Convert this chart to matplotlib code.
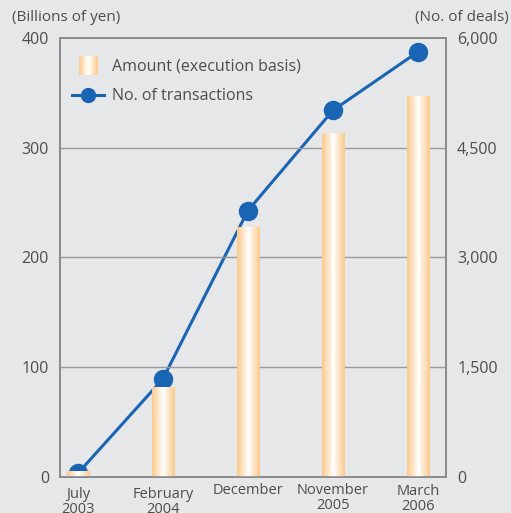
import matplotlib.pyplot as plt
import numpy as np
from matplotlib.colors import LinearSegmentedColormap
from matplotlib.legend_handler import HandlerBase
from matplotlib.lines import Line2D
from matplotlib.patches import Rectangle
from matplotlib.transforms import blended_transform_factory, offset_copy

# data
periods = ['July\n2003', 'February\n2004', 'December', 'November\n2005', 'March\n2006']
amount = [5, 82, 228, 313, 347]          # billions of yen
deals = [50, 1340, 3640, 5010, 5810]     # no. of deals
left_ticks = [0, 100, 200, 300, 400]
right_ticks = [0, 1500, 3000, 4500, 6000]
right_labels = ['0', '1,500', '3,000', '4,500', '6,000']

bg = '#e6e7e9'
txt = '#4d4d4d'
blue = '#1a64b4'
bar_cmap = LinearSegmentedColormap.from_list('bar', ['#fcc88a', '#ffffff', '#fcc88a'])

plt.rcParams['font.family'] = ['Open Sans', 'DejaVu Sans']
plt.rcParams['font.size'] = 11

fig = plt.figure(figsize=(5.11, 5.13), dpi=100, facecolor=bg)
ax = fig.add_axes([0.1174, 0.0702, 0.7554, 0.8558], facecolor=bg)
ax2 = ax.twinx()

x = np.arange(len(periods))
width = 0.26
ax.set_xlim(-0.21, 4.33)
ax.set_ylim(0, 400)
ax2.set_ylim(0, 6000)

# grid lines
for v in left_ticks[1:-1]:
    ax.axhline(v, color='#9a9a9a', lw=1, zorder=0)

# bars with a horizontal gradient
grad = np.linspace(0, 1, 256).reshape(1, -1)
bars = ax.bar(x, amount, width, color='none', edgecolor='none', zorder=2)
for b in bars:
    bx, by = b.get_x(), b.get_y()
    im = ax.imshow(grad, cmap=bar_cmap, aspect='auto', zorder=2,
                   extent=[bx, bx + b.get_width(), by, by + b.get_height()])
    im.set_clip_path(b)
ax.set_xlim(-0.21, 4.33)
ax.set_ylim(0, 400)

# line on the right axis
ax2.plot(x, deals, color=blue, lw=2.2, marker='o', markersize=13, zorder=3)

for a in (ax, ax2):
    for s in a.spines.values():
        s.set_color('#8a8a8a')
        s.set_linewidth(1.2)
    a.tick_params(length=0, colors=txt, labelsize=11.5)

ax.set_yticks(left_ticks)
ax.tick_params(axis='y', pad=8)
ax2.set_yticks(right_ticks)
ax2.set_yticklabels(right_labels)
ax2.tick_params(axis='y', pad=8)

# x labels, placed individually like the original
ax.set_xticks([])
trans = blended_transform_factory(ax.transData, ax.transAxes)
label_offsets = [-7, -7, -4, -4, -5]
for xi, lab, off in zip(x, periods, label_offsets):
    ax.text(xi, 0, lab, transform=offset_copy(trans, fig=fig, y=off, units='points'),
            ha='center', va='top', color=txt, fontsize=10.5, linespacing=1.05)

fig.text(0.023, 0.965, '(Billions of yen)', color=txt, fontsize=11, va='center')
fig.text(0.995, 0.965, '(No. of deals)', color=txt, fontsize=11, va='center', ha='right')


class GradientHandler(HandlerBase):
    def create_artists(self, legend, orig_handle, xd, yd, w, h, fontsize, trans):
        n = 24
        sw = w * 0.62
        sh = h * 1.75
        x0 = xd + (w - sw) / 2
        y0 = -yd + (h - sh) / 2
        artists = []
        for i in range(n):
            r = Rectangle((x0 + i * sw / n, y0), sw / n + 0.05, sh,
                          facecolor=bar_cmap(i / (n - 1)), edgecolor='none', transform=trans)
            artists.append(r)
        return artists


amount_handle = Rectangle((0, 0), 1, 1)
line_handle = Line2D([], [], color=blue, lw=2.2, marker='o', markersize=10)
leg = ax.legend([amount_handle, line_handle], ['Amount (execution basis)', 'No. of transactions'],
                handler_map={Rectangle: GradientHandler()},
                loc='upper left', bbox_to_anchor=(-0.005, 0.985), frameon=False,
                fontsize=11.5, handlelength=2.0, handletextpad=0.5, labelspacing=0.85,
                labelcolor=txt)
ax.set_zorder(ax2.get_zorder() + 1)
ax.patch.set_visible(False)
ax2.patch.set_facecolor(bg)
ax2.patch.set_visible(True)

fig.savefig('out.png', dpi=100, facecolor=bg)
